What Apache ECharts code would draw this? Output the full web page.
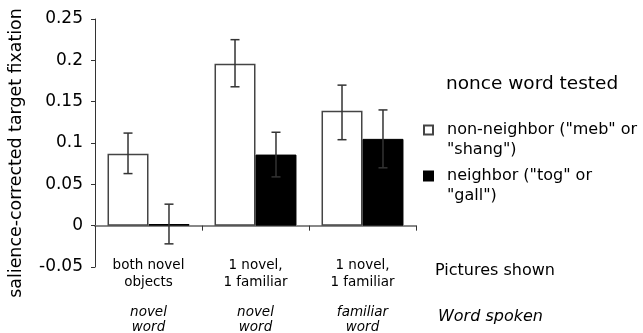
<!DOCTYPE html>
<html>
<head>
<meta charset="utf-8">
<script src="https://cdn.jsdelivr.net/npm/echarts@6/dist/echarts.min.js"></script>
<style>html,body{margin:0;padding:0;background:#fff}#c{width:643px;height:333px}</style>
</head>
<body>
<div id="c"></div>
<script>
const categoriesTop = ['both novel\nobjects', '1 novel,\n1 familiar', '1 novel,\n1 familiar'];
const categoriesBottom = ['novel\nword', 'novel\nword', 'familiar\nword'];
const seriesNames = ['non-neighbor ("meb" or\n"shang")', 'neighbor ("tog" or\n"gall")'];
const nonNeighbor = [0.087, 0.196, 0.139];
const nonNeighborLow = [0.063, 0.168, 0.104];
const nonNeighborHigh = [0.112, 0.225, 0.170];
const neighbor = [0.002, 0.086, 0.105];
const neighborLow = [-0.022, 0.059, 0.070];
const neighborHigh = [0.026, 0.113, 0.140];
const yTicks = [-0.05, 0, 0.05, 0.1, 0.15, 0.2, 0.25];

const FONT = '"DejaVu Sans", Verdana, sans-serif';
const cats = categoriesTop.map((t, i) => i);

const errData = [];
for (let i = 0; i < cats.length; i++) {
  errData.push([i, nonNeighborLow[i], nonNeighborHigh[i], 0]);
  errData.push([i, neighborLow[i], neighborHigh[i], 1]);
}

const chart = echarts.init(document.getElementById('c'), null, {renderer: 'canvas'});
chart.setOption({
  animation: false,
  backgroundColor: '#fff',
  textStyle: {fontFamily: FONT},
  grid: {left: 95, top: 19, right: 227, bottom: 66, containLabel: false, outerBoundsMode: 'none'},
  title: {
    text: 'nonce word tested', left: 446, top: 75, padding: 0,
    textStyle: {fontFamily: FONT, fontSize: 18.5, fontWeight: 'normal', color: '#000'}
  },
  legend: {
    orient: 'vertical', left: 423, top: 100, padding: 0,
    itemWidth: 9, itemHeight: 9, itemGap: -14, icon: 'rect',
    data: seriesNames,
    formatter: function (name) {
      return '{t| }\n' + name.split('\n').map(s => '{t|' + s + '}').join('\n');
    },
    textStyle: {
      fontFamily: FONT, fontSize: 16, color: '#000', lineHeight: 20,
      rich: {t: {fontFamily: FONT, fontSize: 16, color: '#000', lineHeight: 20, padding: [0, 0, 0, 9]}}
    }
  },
  xAxis: {
    type: 'category',
    data: cats,
    axisLine: {onZero: true, lineStyle: {color: '#888', width: 2}},
    axisTick: {show: true, length: 5, lineStyle: {color: '#333', width: 1}},
    axisLabel: {
      margin: -10,
      interval: 0,
      formatter: function (v, i) {
        const a = categoriesTop[i].split('\n').map(s => '{a|' + s + '}').join('\n');
        const b = categoriesBottom[i].split('\n').map(s => '{b|' + s + '}').join('\n');
        return a + '\n{s| }\n' + b;
      },
      rich: {
        a: {fontFamily: FONT, fontSize: 13.5, lineHeight: 17, color: '#000'},
        s: {fontSize: 4, lineHeight: 14},
        b: {fontFamily: FONT, fontSize: 13.5, lineHeight: 15, fontStyle: 'italic', color: '#000'}
      }
    }
  },
  yAxis: {
    type: 'value',
    min: -0.05, max: 0.25, interval: 0.05,
    name: 'salience-corrected target fixation',
    nameLocation: 'middle', nameGap: 70,
    nameTextStyle: {fontFamily: FONT, fontSize: 17.4, color: '#000', padding: [0, 20, 0, 0]},
    axisLine: {show: true, lineStyle: {color: '#333', width: 1}},
    axisTick: {show: true, length: 4, lineStyle: {color: '#333'}},
    splitLine: {show: false},
    axisLabel: {
      margin: 12, fontFamily: FONT, fontSize: 17, color: '#000',
      formatter: function (v) {
        const t = yTicks.find(x => Math.abs(x - v) < 1e-9);
        return String(t !== undefined ? t : v);
      }
    }
  },
  series: [
    {
      name: seriesNames[0], type: 'bar', data: nonNeighbor,
      barGap: '0%', barCategoryGap: '23.4%',
      itemStyle: {color: '#fff', borderColor: '#444', borderWidth: 1.5}
    },
    {
      name: seriesNames[1], type: 'bar', data: neighbor,
      itemStyle: {color: '#000', borderColor: '#000', borderWidth: 1}
    },
    {
      type: 'custom', z: 10, silent: true,
      data: errData,
      renderItem: function (params, api) {
        const ci = api.value(0), lo = api.value(1), hi = api.value(2), s = api.value(3);
        const band = api.size([1, 0])[0];
        const bw = band * (1 - 0.234) / 2;
        const off = (s === 0 ? -1 : 1) * bw / 2;
        const pLo = api.coord([ci, lo]);
        const pHi = api.coord([ci, hi]);
        const x = pLo[0] + off;
        const cap = 4.5;
        const st = {stroke: '#333', lineWidth: 1.5};
        return {
          type: 'group',
          children: [
            {type: 'line', shape: {x1: x, y1: pLo[1], x2: x, y2: pHi[1]}, style: st},
            {type: 'line', shape: {x1: x - cap, y1: pLo[1], x2: x + cap, y2: pLo[1]}, style: st},
            {type: 'line', shape: {x1: x - cap, y1: pHi[1], x2: x + cap, y2: pHi[1]}, style: st}
          ]
        };
      }
    }
  ],
  graphic: [
    {type: 'text', left: 435, top: 263, style: {text: 'Pictures shown', font: '16px ' + FONT, fill: '#000'}},
    {type: 'text', left: 438, top: 309, style: {text: 'Word spoken', font: 'italic 16px ' + FONT, fill: '#000'}}
  ]
});
</script>
</body>
</html>
